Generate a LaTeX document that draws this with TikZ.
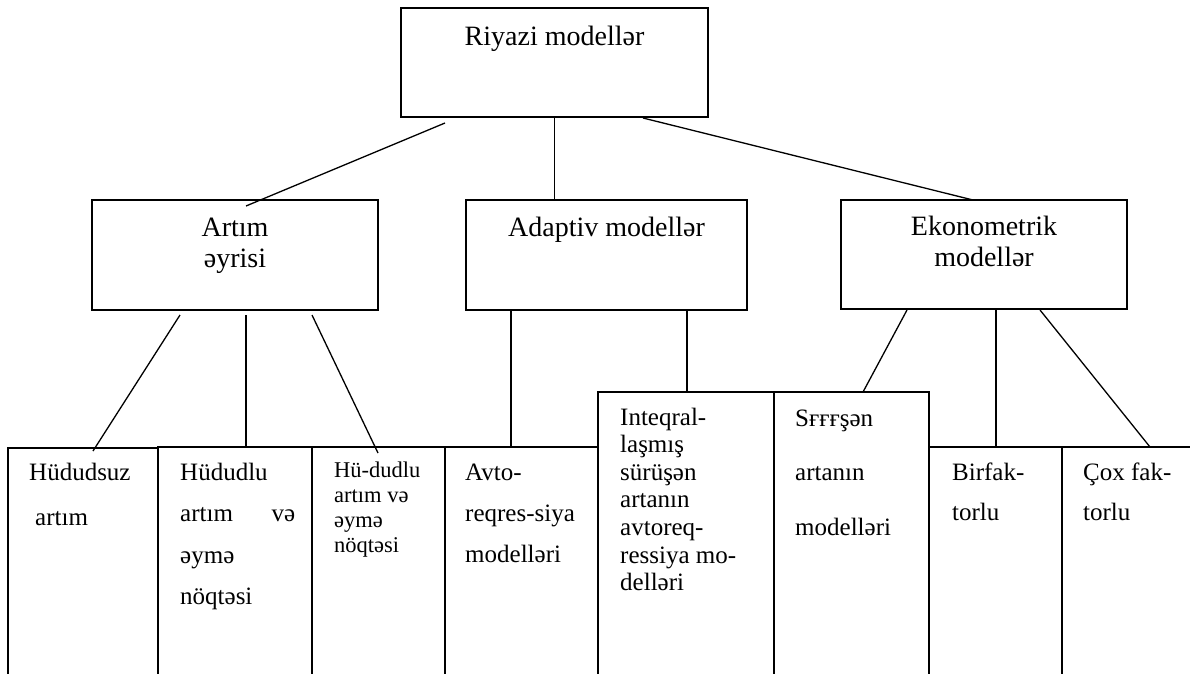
\documentclass[tikz,border=0pt]{standalone}
\usepackage{fontspec}
\setmainfont{Liberation Serif}
\begin{document}
\begin{tikzpicture}[x=1pt,y=-1pt,
  box/.style={draw, line width=1.4pt, inner sep=0pt, outer sep=0pt, anchor=north west},
  conn/.style={line width=1.3pt},
  head/.style={anchor=base, inner sep=0pt, font=\fontsize{28}{31}\selectfont, align=center},
  lbl/.style={anchor=base west, inner sep=0pt, align=left},
]
\clip (0,0) rectangle (1190,673);
\fill[white] (0,0) rectangle (1190,673);
% level 0
\node[box, minimum width=307pt, minimum height=109pt] (top) at (401,8) {};
% level 1
\node[box, minimum width=286pt, minimum height=110pt] (art) at (92,200) {};
\node[box, minimum width=281pt, minimum height=110pt] (adp) at (466,200) {};
\node[box, minimum width=286pt, minimum height=109pt] (eko) at (841,200) {};
% level 2 (open at the bottom of the picture)
\node[box, minimum width=150pt, minimum height=300pt] (b1) at (8,448) {};
\node[box, minimum width=154pt, minimum height=300pt] (b2) at (158,447) {};
\node[box, minimum width=133pt, minimum height=300pt] (b3) at (312,447) {};
\node[box, minimum width=153pt, minimum height=300pt] (b4) at (445,447) {};
\node[box, minimum width=176pt, minimum height=300pt] (b5) at (598,392) {};
\node[box, minimum width=155pt, minimum height=300pt] (b6) at (774,392) {};
\node[box, minimum width=133pt, minimum height=300pt] (b7) at (929,447) {};
\node[box, minimum width=140pt, minimum height=300pt] (b8) at (1062,447) {};

% texts (anchor = baseline of the last line)
\node[head] (ttop) at (554.5,45) {Riyazi modellər};
\node[head] (tart) at (235,267) {Artım\\əyrisi};
\node[head] (tadp) at (606.5,236) {Adaptiv modellər};
\node[head] (teko) at (984,266) {Ekonometrik\\modellər};

\node[lbl, font=\fontsize{25}{27}\selectfont] (t1a) at (29,480) {Hüdudsuz};
\node[lbl, font=\fontsize{25}{27}\selectfont] (t1b) at (35,525) {artım};
\node[lbl, font=\fontsize{25}{41.5}\selectfont] (t2) at (180,604.5)
  {Hüdudlu\\\makebox[115pt][s]{artım\hfill və}\\əymə\\nöqtəsi};
\node[lbl, font=\fontsize{22.5}{25}\selectfont] (t3) at (334,552)
  {Hü-dudlu\\artım və\\əymə\\nöqtəsi};
\node[lbl, font=\fontsize{25}{41}\selectfont] (t4) at (465,562)
  {Avto-\\reqres-siya\\modelləri};
\node[lbl, font=\fontsize{25}{27.6}\selectfont] (t5) at (620,590.6)
  {Inteqral-\\laşmış\\sürüşən\\artanın\\avtoreq-\\ressiya mo-\\delləri};
\node[lbl, font=\fontsize{25}{54.5}\selectfont] (t6) at (795,535)
  {Sғғғşən\\artanın\\modelləri};
\node[lbl, font=\fontsize{25}{40}\selectfont] (t7) at (952,520)
  {Birfak-\\torlu};
\node[lbl, font=\fontsize{25}{40}\selectfont] (t8) at (1083,520)
  {Çox fak-\\torlu};

% connectors level 0 -> 1
\draw[conn] ([xshift=44pt,yshift=-6pt]top.south west) -- ([xshift=154pt,yshift=-6pt]art.north west);
\draw[conn] (top.south) -- (top.south |- adp.north);
\draw[conn] ([xshift=-65pt,yshift=-1pt]top.south east) -- ([xshift=132pt]eko.north west);

% connectors level 1 -> 2
\coordinate (a2) at ([xshift=154pt,yshift=-5pt]art.south west);
\coordinate (d1) at ([xshift=45pt]adp.south west);
\coordinate (d2) at ([xshift=221pt]adp.south west);
\coordinate (e2) at ([xshift=155pt]eko.south west);
\draw[conn] ([xshift=88pt,yshift=-5pt]art.south west) -- ([xshift=85pt,yshift=-3pt]b1.north west);
\draw[conn] (a2) -- (a2 |- b2.north);
\draw[conn] ([xshift=220pt,yshift=-5pt]art.south west) -- ([xshift=66pt,yshift=-6pt]b3.north west);
\draw[conn] (d1) -- (d1 |- b4.north);
\draw[conn] (d2) -- (d2 |- b5.north);
\draw[conn] ([xshift=66pt,yshift=-1pt]eko.south west) -- ([xshift=89pt]b6.north west);
\draw[conn] (e2) -- (e2 |- b7.north);
\draw[conn] ([xshift=199pt,yshift=-1pt]eko.south west) -- ([xshift=88pt]b8.north west);
\end{tikzpicture}
\end{document}
